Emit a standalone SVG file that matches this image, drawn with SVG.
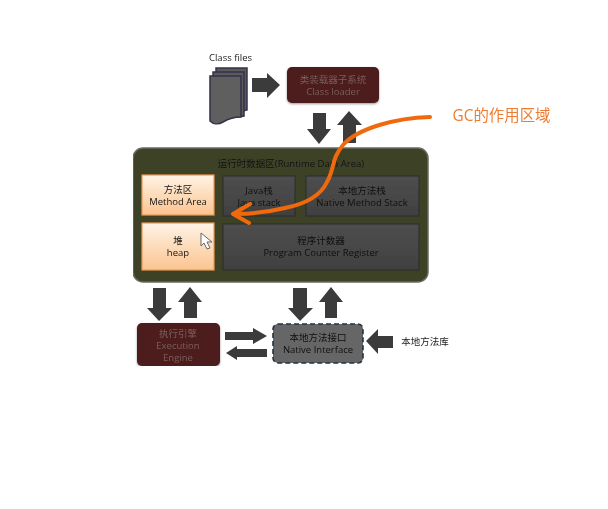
<svg xmlns="http://www.w3.org/2000/svg" width="608" height="509" viewBox="0 0 608 509">
<style>
text{font-family:"Open Sans","Noto Sans CJK SC",sans-serif;text-anchor:middle}
.dk{fill:#3a3a3a}
.lbl{font-size:9.5px;fill:#141414}
.dim{font-size:9.5px;fill:#7a5f5c}
.gray{fill:url(#gg);stroke:#2b2b2b;stroke-width:1}
.gt{font-size:9.5px;fill:#101010}
.or{fill:url(#og);stroke:#ee9a54;stroke-width:1.2}
.mar{fill:#4e1a1a;filter:url(#sh)}
</style>
<defs>
<linearGradient id="og" x1="0" y1="0" x2="0" y2="1"><stop offset="0" stop-color="#fff3e6"/><stop offset="1" stop-color="#fbc48f"/></linearGradient>
<linearGradient id="gg" x1="0" y1="0" x2="0" y2="1"><stop offset="0" stop-color="#4e4e4e"/><stop offset="1" stop-color="#404040"/></linearGradient>
<filter id="sh" x="-10%" y="-10%" width="120%" height="125%"><feDropShadow dx="0" dy="1" stdDeviation="1" flood-color="#000" flood-opacity=".4"/></filter>
<filter id="soft" x="0" y="0" width="100%" height="100%"><feGaussianBlur stdDeviation="0.4"/></filter>
</defs>
<rect width="608" height="509" fill="#fff"/>
<g filter="url(#soft)">
<g id="class-files">
<text x="230.500" y="61" style="font-size:9.500px;fill:#222">Class files</text>
<path d="M216 70V68H247V110L216 118Z" fill="#5a5a5a" stroke="#35304a" stroke-width="1.500"/>
<path d="M213 74V72H244V116L213 120Z" fill="#5a5a5a" stroke="#35304a" stroke-width="1.500"/>
<path d="M210 78V76H241V117C232 117 228 119 223 122C218 125 213 124 210 121Z" fill="#5e5e5e" stroke="#35304a" stroke-width="1.500"/>
</g>
<g id="class-loader">
<rect class="mar" x="287" y="67" width="92" height="36" rx="5"/>
<text class="dim" x="333" y="83">类装载器子系统</text>
<text class="dim" x="333" y="95">Class loader</text>
</g>
<g id="connectors">
<path class="dk" d="M252 78H267V73L280 85L267 98V92H252Z"/>
<path class="dk" d="M313 113H326V129H331L319 144L307 129H313Z"/>
<path class="dk" d="M343 143V125H337L349 111L362 125H356V143Z"/>
<path class="dk" d="M153 288H166V308H172L159 321L147 308H153Z"/>
<path class="dk" d="M184 318V302H178L190 287L202 302H197V318Z"/>
<path class="dk" d="M293 288H307V308H313L300 321L288 308H293Z"/>
<path class="dk" d="M325 318V302H319L331 287L343 302H337V318Z"/>
<path class="dk" d="M225 332H253V328L267 336L253 344V340H225Z"/>
<path class="dk" d="M267 349H237V346L226 353L237 360V357H267Z"/>
<path class="dk" d="M393 336H378V329L366 341L378 354V348H393Z"/>
</g>
<g id="runtime-data-area">
<rect x="133" y="148" width="295" height="134" rx="10" fill="#3e4228" stroke="#6a6a62" stroke-width="1.500"/>
<text class="lbl" x="291" y="166.500">运行时数据区(Runtime Data Area)</text>
</g>
<g id="method-area">
<rect class="or" x="142" y="175" width="72" height="40"/>
<text class="lbl" x="178" y="193">方法区</text>
<text class="lbl" x="178" y="205">Method Area</text>
</g>
<g id="heap">
<rect class="or" x="142" y="223" width="72" height="47"/>
<text class="lbl" x="178" y="244">堆</text>
<text class="lbl" x="178" y="256">heap</text>
</g>
<g id="java-stack">
<rect class="gray" x="223" y="176" width="72" height="40"/>
<text class="gt" x="259" y="194">Java栈</text>
<text class="gt" x="259" y="206">Java stack</text>
</g>
<g id="native-method-stack">
<rect class="gray" x="306" y="176" width="113" height="40"/>
<text class="gt" x="362" y="194">本地方法栈</text>
<text class="gt" x="362" y="206">Native Method Stack</text>
</g>
<g id="program-counter">
<rect class="gray" x="223" y="224" width="196" height="46"/>
<text class="gt" x="321" y="244">程序计数器</text>
<text class="gt" x="321" y="256">Program Counter Register</text>
</g>
<g id="execution-engine">
<rect class="mar" x="137" y="323" width="83" height="43" rx="5"/>
<text class="dim" x="178" y="336.500">执行引擎</text>
<text class="dim" x="178" y="348.500">Execution</text>
<text class="dim" x="178" y="361">Engine</text>
</g>
<g id="native-interface">
<rect x="273" y="324" width="90" height="39" rx="5" fill="#666" stroke="#1f3347" stroke-width="1.600" stroke-dasharray="5 3"/>
<text class="gt" x="318" y="341">本地方法接口</text>
<text class="gt" x="318" y="353">Native Interface</text>
</g>
<g id="native-library">
<text x="425" y="345" style="font-size:9.500px;fill:#222">本地方法库</text>
</g>
<g id="gc-annotation">
<path d="M430 117C396 118 358 128 343 145C331 159 335 168 327 182C320 197 305 204 285 208C268 212 252 214 236 214M250 204L233 214L249 223" fill="none" stroke="#f06a0c" stroke-width="4" stroke-linecap="round" stroke-linejoin="round"/>
<text x="501.500" y="121" style="font-size:15.400px;fill:#ed7d31">GC的作用区域</text>
</g>
<path id="cursor" d="M201 233V246L204 243L207 249L210 248L207 242H212Z" fill="#fff" stroke="#666" stroke-width="1"/>
</g>
</svg>
